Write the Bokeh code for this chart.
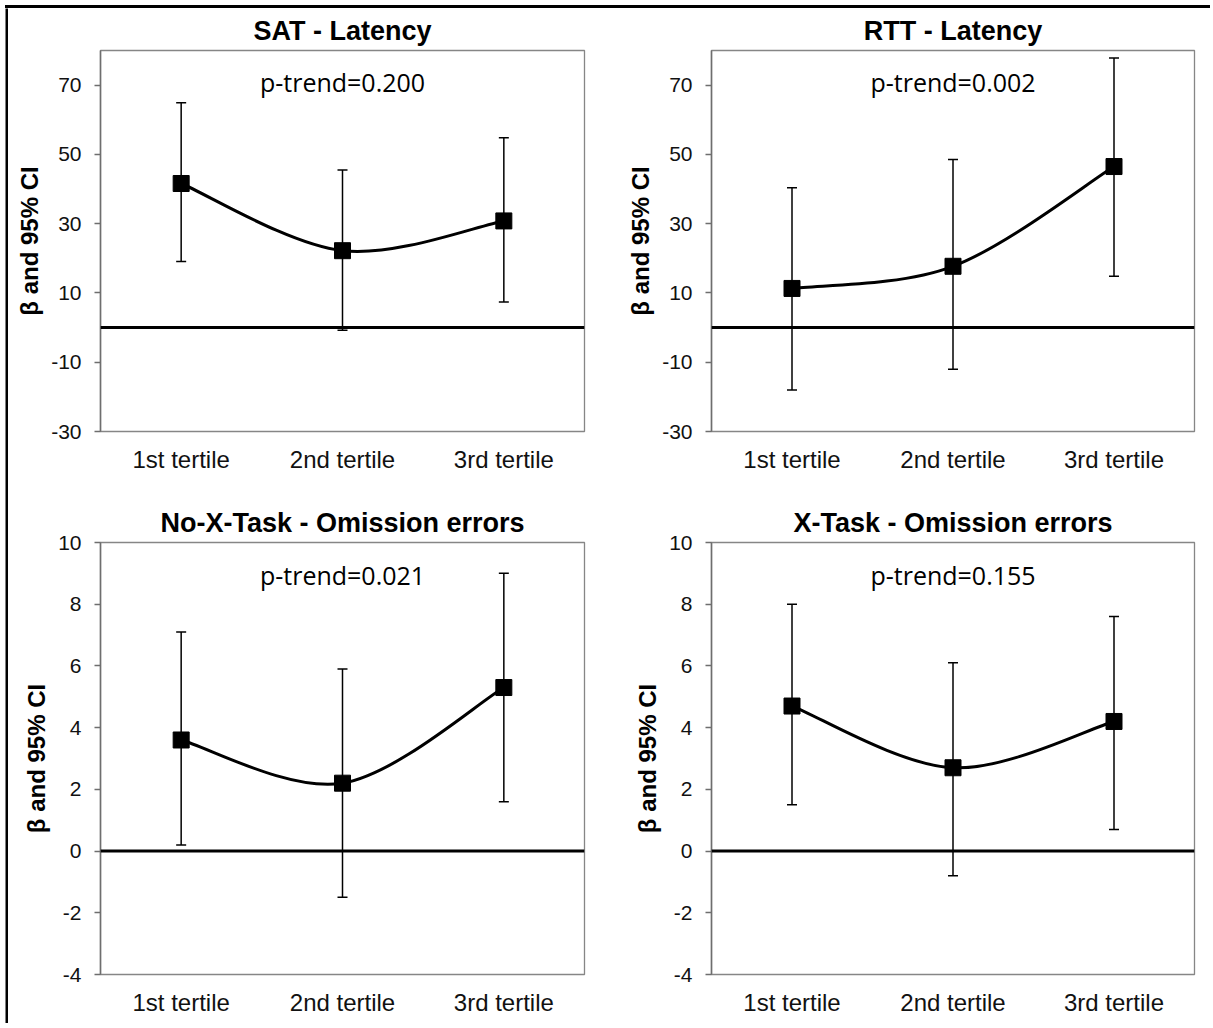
import numpy as np
from bokeh.plotting import figure
from bokeh.models import (FactorRange, Range1d, Whisker, ColumnDataSource, Span, Label,
                          FixedTicker, TeeHead, PrintfTickFormatter, Spacer, Div)
from bokeh.layouts import column, row
from bokeh.embed import file_html
from bokeh.resources import INLINE

# ---------------- data ----------------
tertiles = ["1st tertile", "2nd tertile", "3rd tertile"]

sat_beta = [41.6, 22.2, 30.8]
sat_lower = [19.1, -0.8, 7.4]
sat_upper = [64.9, 45.5, 54.8]

rtt_beta = [11.3, 17.7, 46.5]
rtt_lower = [-18.0, -12.0, 14.8]
rtt_upper = [40.4, 48.5, 77.8]

nox_beta = [3.6, 2.2, 5.3]
nox_lower = [0.2, -1.5, 1.6]
nox_upper = [7.1, 5.9, 9.0]

xtask_beta = [4.7, 2.7, 4.2]
xtask_lower = [1.5, -0.8, 0.7]
xtask_upper = [8.0, 6.1, 7.6]

titles = ["SAT - Latency", "RTT - Latency", "No-X-Task - Omission errors", "X-Task - Omission errors"]
ptrends = ["p-trend=0.200", "p-trend=0.002", "p-trend=0.021", "p-trend=0.155"]
latency_ticks = [-30, -10, 10, 30, 50, 70]
omission_ticks = [-4, -2, 0, 2, 4, 6, 8, 10]
y_label = "β and 95% CI"

FONT = "Liberation Sans"


def panel(title, ptrend, beta, lower, upper, y0, y1, ticks, ptrend_y,
          width, height, bl, br, bt, bb):
    p = figure(x_range=FactorRange(factors=tertiles, range_padding=0),
               y_range=Range1d(y0, y1), width=width, height=height,
               min_border_left=bl, min_border_right=br, min_border_top=bt, min_border_bottom=bb,
               output_backend="svg", toolbar_location=None)
    p.title.text = title
    p.title.align = "center"
    p.title.text_font = FONT
    p.title.text_font_size = "27px"
    p.title.text_font_style = "bold"
    p.title.text_color = "black"
    p.title.standoff = 10

    p.xgrid.visible = False
    p.ygrid.visible = False
    p.outline_line_color = "#868686"
    p.outline_line_width = 1.3
    p.background_fill_color = "white"
    p.border_fill_color = "white"

    # y axis
    p.yaxis.ticker = FixedTicker(ticks=ticks)
    p.yaxis.formatter = PrintfTickFormatter(format="%d")
    p.yaxis.axis_line_color = "#6e6e6e"
    p.yaxis.axis_line_width = 1.5
    p.yaxis.major_tick_line_color = "#6e6e6e"
    p.yaxis.major_tick_line_width = 1.3
    p.yaxis.major_tick_out = 6
    p.yaxis.major_tick_in = 0
    p.yaxis.minor_tick_line_color = None
    p.yaxis.major_label_text_font = FONT
    p.yaxis.major_label_text_font_size = "21px"
    p.yaxis.major_label_text_color = "#111111"
    p.yaxis.major_label_standoff = 13
    p.yaxis.axis_label = y_label
    p.yaxis.axis_label_text_font = FONT
    p.yaxis.axis_label_text_font_size = "24px"
    p.yaxis.axis_label_text_font_style = "bold"
    p.yaxis.axis_label_text_color = "black"
    p.yaxis.axis_label_standoff = 5

    # x axis
    p.xaxis.axis_line_color = None
    p.xaxis.major_tick_line_color = None
    p.xaxis.minor_tick_line_color = None
    p.xaxis.major_label_text_font = FONT
    p.xaxis.major_label_text_font_size = "24px"
    p.xaxis.major_label_text_color = "#111111"
    p.xaxis.major_label_standoff = 8

    # zero line
    p.add_layout(Span(location=0, dimension="width", line_color="black", line_width=3))

    # smoothed connecting line (Catmull-Rom style Bezier through the estimates)
    xs = np.arange(len(tertiles)) + 0.5
    ys = np.array(beta, dtype=float)
    n = len(xs)
    i = np.arange(n - 1)
    im1 = np.maximum(i - 1, 0)
    ip2 = np.minimum(i + 2, n - 1)
    cx0 = xs[i] + (xs[i + 1] - xs[im1]) / 6.0
    cy0 = ys[i] + (ys[i + 1] - ys[im1]) / 6.0
    cx1 = xs[i + 1] - (xs[ip2] - xs[i]) / 6.0
    cy1 = ys[i + 1] - (ys[ip2] - ys[i]) / 6.0
    p.bezier(x0=xs[i], y0=ys[i], x1=xs[i + 1], y1=ys[i + 1],
             cx0=cx0, cy0=cy0, cx1=cx1, cy1=cy1, line_color="black", line_width=3)

    src = ColumnDataSource(dict(x=tertiles, beta=beta, lower=lower, upper=upper))
    w = Whisker(base="x", upper="upper", lower="lower", source=src,
                line_color="black", line_width=1.5,
                upper_head=TeeHead(size=10, line_color="black", line_width=1.5),
                lower_head=TeeHead(size=10, line_color="black", line_width=1.5))
    p.add_layout(w)
    p.scatter(x="x", y="beta", source=src, marker="square", size=16,
              fill_color="black", line_color="black")

    p.add_layout(Label(x=1.5, y=ptrend_y, text=ptrend, text_align="center",
                       text_baseline="middle", text_font="Open Sans",
                       text_font_size="25px", text_color="black"))
    return p


def vbar_fig(w, h):
    f = figure(width=w, height=h, x_axis_location=None, y_axis_location=None,
               toolbar_location=None, output_backend="svg", min_border=0, title=None)
    f.outline_line_color = None
    f.background_fill_color = "black"
    f.border_fill_color = "black"
    f.xgrid.visible = False
    f.ygrid.visible = False
    return f


p1 = panel(titles[0], ptrends[0], sat_beta, sat_lower, sat_upper, -30, 80, latency_ticks, 71,
           592, 492, 92, 16, 41, 69)
p2 = panel(titles[1], ptrends[1], rtt_beta, rtt_lower, rtt_upper, -30, 80, latency_ticks, 71,
           605, 492, 111, 11, 41, 69)
p3 = panel(titles[2], ptrends[2], nox_beta, nox_lower, nox_upper, -4, 10, omission_ticks, 8.95,
           592, 518, 92, 16, 42, 42)
p4 = panel(titles[3], ptrends[3], xtask_beta, xtask_lower, xtask_upper, -4, 10, omission_ticks, 8.95,
           605, 518, 111, 11, 42, 42)

top_bar = Div(text="", width=1205, height=3, margin=0,
              styles={"background-color": "black"})

grid = column(row(p1, p2), row(p3, p4))
layout = column(Spacer(height=5),
                row(Spacer(width=5),
                    column(top_bar,
                           row(vbar_fig(3, 1015), grid))))

open("out.html", "w").write(file_html(layout, INLINE))
